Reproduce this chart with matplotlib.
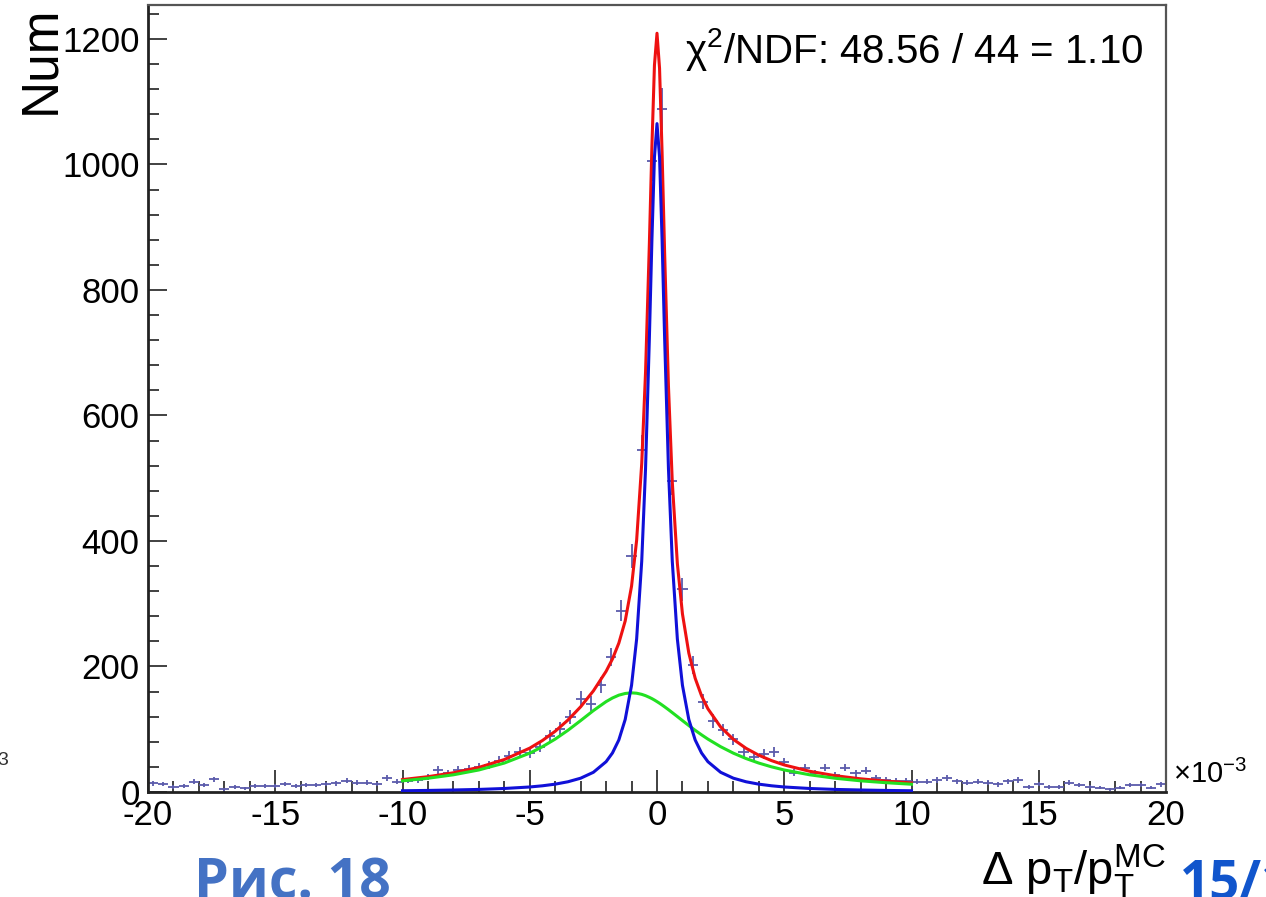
"""Delta pT / pT resolution histogram with a two-component fit (ROOT-like look)."""

import numpy as np
import matplotlib

matplotlib.use("Agg")
import matplotlib.pyplot as plt
from matplotlib.ticker import MultipleLocator

plt.rcParams["font.family"] = ["Liberation Sans", "DejaVu Sans"]
plt.rcParams["mathtext.fontset"] = "custom"
plt.rcParams["mathtext.rm"] = "Liberation Sans"
plt.rcParams["mathtext.it"] = "Liberation Sans:italic"
plt.rcParams["axes.unicode_minus"] = False

# histogram binning, x in units of 1e-3
bin_edges = np.linspace(-20, 20, 101)
counts = [
    14, 13, 8, 9, 16, 11, 20, 4, 8, 6,            # -19.8 .. -16.2
    9, 10, 9, 13, 9, 11, 11, 13, 14, 18,          # -15.8 .. -12.2
    15, 15, 13, 23, 16, 18, 19, 24, 35, 30,       # -11.8 .. -8.2
    35, 37, 40, 43, 50, 58, 64, 62, 72, 90,       # -7.8 .. -4.2
    101, 120, 148, 141, 170, 215, 289, 376, 545, 1006,  # -3.8 .. -0.2
    1088, 496, 323, 202, 144, 113, 99, 84, 64, 56,      # 0.2 .. 3.8
    61, 64, 48, 31, 39, 30, 39, 27, 39, 30,       # 4.2 .. 7.8
    34, 22, 19, 18, 18, 16, 16, 19, 23, 17,       # 8.2 .. 11.8
    15, 16, 15, 12, 17, 19, 8, 13, 8, 8,          # 12.2 .. 15.8
    15, 11, 8, 7, 4, 7, 11, 11, 7, 12,            # 16.2 .. 19.8
]

# fit curves
fit_x = [
    -10, -9, -8, -7, -6, -5, -4.5, -4, -3.5, -3, -2.5, -2, -1.75, -1.5,
    -1.25, -1, -0.8, -0.6, -0.45, -0.3, -0.2, -0.1, 0, 0.1, 0.2, 0.3,
    0.45, 0.6, 0.8, 1, 1.25, 1.5, 1.75, 2, 2.5, 3, 3.5, 4, 4.5, 5, 6, 7,
    8, 9, 10,
]
fit_total = [
    19.8, 24.4, 30.6, 39.2, 51.7, 69.9, 82.1, 96.8, 114.6, 135.8, 161.1,
    192.3, 212.0, 237.2, 272.5, 328.0, 401.2, 523.5, 669.0, 873.5, 1028.6,
    1158.3, 1209.0, 1153.2, 1018.4, 858.4, 646.7, 494.4, 364.0, 283.8,
    221.4, 181.2, 153.3, 132.6, 103.6, 83.9, 69.6, 58.6, 50.0, 43.1, 33.0,
    26.0, 21.0, 17.3, 14.4,
]
fit_narrow = [
    2.0, 2.5, 3.2, 4.1, 5.6, 8.0, 9.9, 12.5, 16.3, 22.0, 31.4, 48.3, 62.2,
    82.9, 115.5, 170.0, 243.8, 367.9, 515.5, 722.7, 879.8, 1011.8, 1065.0,
    1011.8, 879.8, 722.7, 515.5, 367.9, 243.8, 170.0, 115.5, 82.9, 62.2,
    48.3, 31.4, 22.0, 16.3, 12.5, 9.9, 8.0, 5.6, 4.1, 3.2, 2.5, 2.0,
]
fit_wide = [
    17.8, 21.9, 27.4, 35.1, 46.1, 61.9, 72.2, 84.3, 98.3, 113.8, 129.7,
    144.0, 149.8, 154.3, 157.0, 158.0, 157.4, 155.6, 153.5, 150.8, 148.8,
    146.5, 144.0, 141.4, 138.6, 135.7, 131.2, 126.5, 120.2, 113.8, 105.9,
    98.3, 91.1, 84.3, 72.2, 61.9, 53.3, 46.1, 40.1, 35.1, 27.4, 21.9,
    17.8, 14.8, 12.4,
]

y_ticks = [0, 200, 400, 600, 800, 1000, 1200]
x_ticks = [-20, -15, -10, -5, 0, 5, 10, 15, 20]
chi2_text = "χ$^{2}$/NDF: 48.56 / 44 = 1.10"

W, H = 1266, 897
fig = plt.figure(figsize=(W / 100, H / 100), dpi=100)
fig.patch.set_facecolor("white")


def px(x, y):
    """Pixel position (from top-left) to figure fraction."""
    return x / W, 1 - y / H


left, top = px(148, 5)
right, bottom = px(1166, 792)
ax = fig.add_axes([left, bottom, right - left, top - bottom])

centers = 0.5 * (bin_edges[:-1] + bin_edges[1:])
half_width = 0.5 * (bin_edges[1] - bin_edges[0])
counts_arr = np.asarray(counts, dtype=float)
ax.errorbar(
    centers, counts_arr, xerr=half_width, yerr=np.sqrt(counts_arr),
    fmt="none", ecolor="#5b5bab", elinewidth=1.3, capsize=0, zorder=2,
)

ax.plot(fit_x, fit_total, color="#ee1111", linewidth=2.2, zorder=3)
ax.plot(fit_x, fit_wide, color="#22e022", linewidth=2.2, zorder=4)
ax.plot(fit_x, fit_narrow, color="#1010d8", linewidth=2.2, zorder=5)

ax.set_xlim(-20, 20)
ax.set_ylim(0, 1254)
ax.set_xticks(x_ticks)
ax.set_yticks(y_ticks)
ax.xaxis.set_minor_locator(MultipleLocator(1))
ax.yaxis.set_minor_locator(MultipleLocator(40))
ax.tick_params(which="both", direction="in", width=1.3, color="#333333",
               labelsize=25, top=False, right=False)
ax.tick_params(axis="x", which="major", length=16, pad=5)
ax.tick_params(axis="x", which="minor", length=8)
ax.tick_params(axis="y", which="major", length=14, pad=6)
ax.tick_params(axis="y", which="minor", length=8)
for side in ("left", "bottom"):
    ax.spines[side].set_linewidth(2.0)
    ax.spines[side].set_color("#222222")
for side in ("top", "right"):
    ax.spines[side].set_linewidth(1.6)
    ax.spines[side].set_color("#555555")

# texts around the frame
fig.text(*px(41, 5), "Num", rotation=90, ha="center", va="top", fontsize=37)
fig.text(*px(1166, 885), "Δ p$_\\mathrm{T}$/p$_\\mathrm{T}^\\mathrm{MC}$",
         ha="right", va="baseline", fontsize=34)
fig.text(*px(685, 63), chi2_text, ha="left", va="baseline", fontsize=29)
fig.text(*px(1173, 783), "×10$^{-3}$", ha="left", va="baseline", fontsize=21)
fig.text(*px(8, 765), "3", ha="right", va="baseline", fontsize=14,
         color="#333333")

fig.text(*px(194, 898), "Рис. 18", ha="left", va="baseline", fontsize=40,
         fontweight="bold", color="#4472c4", family=["Open Sans", "DejaVu Sans"])
fig.text(*px(1180, 898), "15/17", ha="left", va="baseline", fontsize=38,
         fontweight="bold", color="#1155cc", family=["Open Sans", "DejaVu Sans"])

fig.savefig("out.png", dpi=100, facecolor="white")
